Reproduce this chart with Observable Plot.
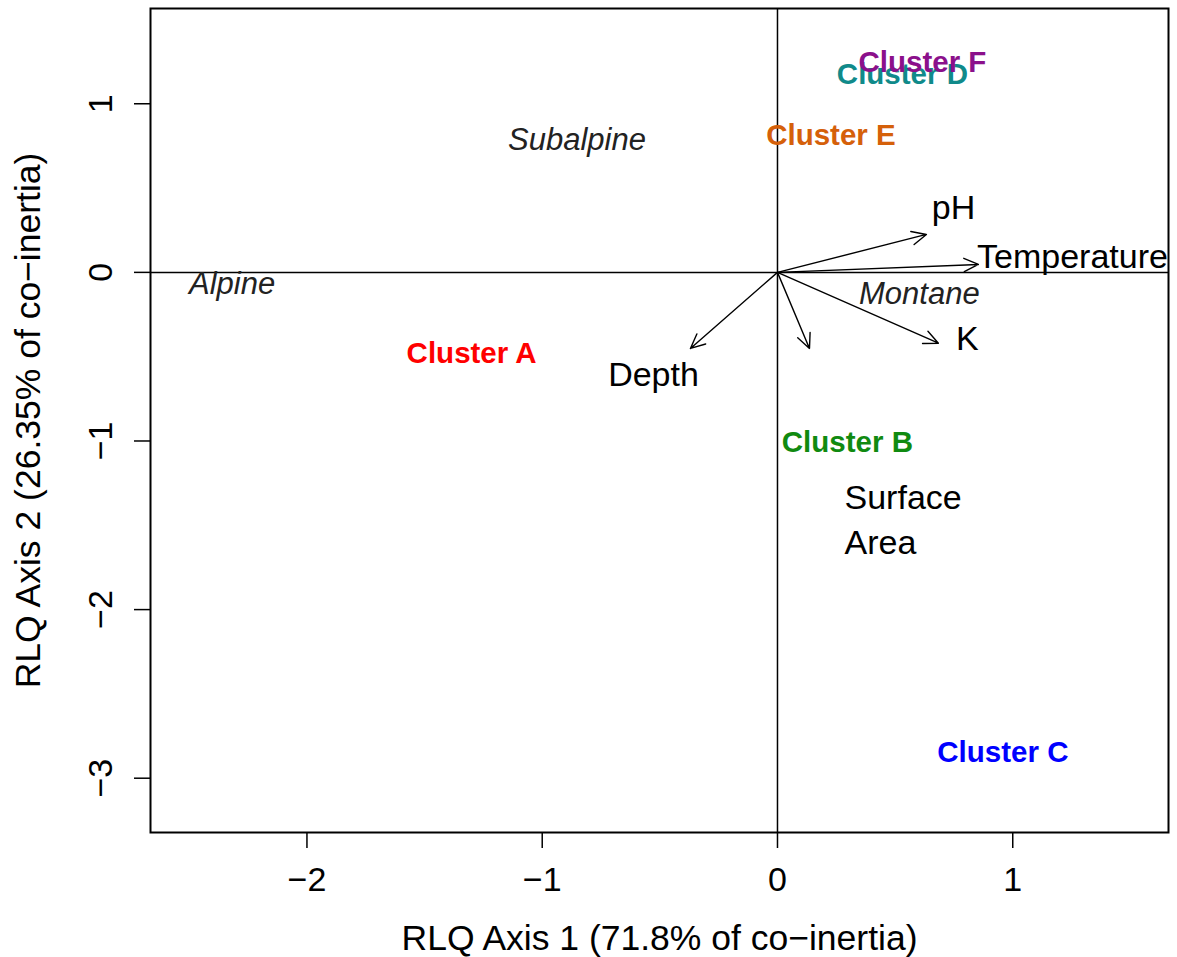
<!DOCTYPE html>
<html>
<head>
<meta charset="utf-8">
<script src="https://cdn.jsdelivr.net/npm/d3@7"></script>
<script src="https://cdn.jsdelivr.net/npm/@observablehq/plot@0.6"></script>
<style>
  html, body { margin: 0; padding: 0; background: white; }
</style>
</head>
<body>
<div id="chart"></div>
<script>
// Axis ticks
const xTicks = [-2, -1, 0, 1];
const xTickLabels = ["−2", "−1", "0", "1"];
const yTicks = [1, 0, -1, -2, -3];
const yTickLabels = ["1", "0", "−1", "−2", "−3"];
const xTitle = "RLQ Axis 1 (71.8% of co−inertia)";
const yTitle = "RLQ Axis 2 (26.35% of co−inertia)";

// Environmental variable arrows (end points)
const varNames = ["pH", "Temperature", "K", "Surface Area", "Depth"];
const varX = [0.633, 0.854, 0.684, 0.136, -0.37];
const varY = [0.225, 0.047, -0.42, -0.451, -0.451];

// Variable label positions
const varLabels = ["pH", "Temperature", "K", "Depth"];
const varLabelX = [0.748, 1.254, 0.807, -0.527];
const varLabelY = [0.379, 0.088, -0.398, -0.611];
const surfaceLabel = "Surface\nArea";
const surfaceLabelX = 0.285;
const surfaceLabelY = -1.454;

// Cluster labels
const clusters = ["Cluster A", "Cluster B", "Cluster C", "Cluster E", "Cluster D", "Cluster F"];
const clusterX = [-1.30, 0.297, 0.958, 0.227, 0.531, 0.616];
const clusterY = [-0.483, -1.009, -2.845, 0.809, 1.174, 1.245];
const clusterColors = ["#FF0000", "#108A10", "#0000FF", "#D5600A", "#108A8A", "#8B108B"];

// Zone labels (italic)
const zones = ["Alpine", "Subalpine", "Montane"];
const zoneX = [-2.318, -0.852, 0.603];
const zoneY = [-0.069, 0.785, -0.128];

const arrows = varNames.map((n, i) => ({name: n, x2: varX[i], y2: varY[i]}));
const vlabels = varLabels.map((n, i) => ({name: n, x: varLabelX[i], y: varLabelY[i]}));
const clabels = clusters.map((n, i) => ({name: n, x: clusterX[i], y: clusterY[i], color: clusterColors[i]}));
const zlabels = zones.map((n, i) => ({name: n, x: zoneX[i], y: zoneY[i]}));
const yTickData = yTicks.map((v, i) => ({v, label: yTickLabels[i]}));

const font = "'Liberation Sans', Arial, Helvetica, sans-serif";

const chart = Plot.plot({
  width: 1177,
  height: 957,
  marginLeft: 150,
  marginRight: 9,
  marginTop: 8,
  marginBottom: 125,
  x: {domain: [-2.665, 1.662]},
  y: {domain: [-3.322, 1.565]},
  style: {fontFamily: font, background: "white", color: "black"},
  marks: [
    Plot.ruleY([0], {stroke: "black", strokeWidth: 1.5}),
    Plot.ruleX([0], {stroke: "black", strokeWidth: 1.5}),
    Plot.arrow(arrows, {x1: 0, y1: 0, x2: "x2", y2: "y2", stroke: "black", strokeWidth: 1.4, headLength: 17, headAngle: 50}),
    Plot.text(vlabels, {x: "x", y: "y", text: "name", fontSize: 34, fill: "black", lineAnchor: "middle"}),
    Plot.text([surfaceLabel], {x: () => surfaceLabelX, y: () => surfaceLabelY, text: d => d, fontSize: 34, textAnchor: "start", lineAnchor: "middle", lineHeight: 1.32, fill: "black"}),
    Plot.text(zlabels, {x: "x", y: "y", text: "name", fontSize: 31, fontStyle: "italic", fill: "#222", lineAnchor: "middle"}),
    Plot.text(clabels, {x: "x", y: "y", text: "name", fontSize: 29.5, fontWeight: "bold", fill: "color", lineAnchor: "middle"}),
    Plot.frame({stroke: "black", strokeWidth: 2}),
    Plot.axisX({ticks: xTicks, tickSize: 16, tickFormat: () => "", label: null, strokeWidth: 1.5}),
    Plot.axisY({ticks: yTicks, tickSize: 16, tickFormat: () => "", label: null, strokeWidth: 1.5}),
    Plot.text(xTicks, {x: d => d, text: (d, i) => xTickLabels[i], frameAnchor: "bottom", dy: 48, fontSize: 34, lineAnchor: "middle", fill: "black"}),
    Plot.text(yTickData, {y: "v", text: "label", frameAnchor: "left", dx: -49, rotate: -90, fontSize: 34, lineAnchor: "middle", textAnchor: "middle", fill: "black"}),
    Plot.text([xTitle], {frameAnchor: "bottom", dy: 106, fontSize: 35.5, lineAnchor: "middle", textAnchor: "middle", fill: "black"}),
    Plot.text([yTitle], {frameAnchor: "left", dx: -122, rotate: -90, fontSize: 35.5, lineAnchor: "middle", textAnchor: "middle", fill: "black"})
  ]
});
document.getElementById("chart").appendChild(chart);
</script>
</body>
</html>
